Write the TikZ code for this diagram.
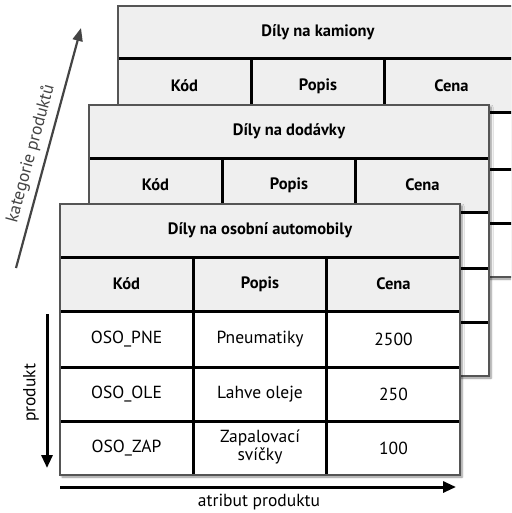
\documentclass[tikz,border=0pt]{standalone}
\usepackage{fontspec}
\setmainfont{PT Sans}
\usetikzlibrary{arrows.meta,shadows.blur}
\definecolor{frameGray}{RGB}{85,85,85}
\definecolor{headGray}{RGB}{239,239,239}
\definecolor{axisGray}{RGB}{68,68,68}

% one empty table, top left corner at (#1,#2)
\newcommand{\tablebox}[2]{%
  \begin{scope}[shift={(#1,#2)}]
    \fill[white, blur shadow={shadow xshift=2pt, shadow yshift=-2pt,
      shadow blur steps=6, shadow opacity=45}] (0,0) rectangle (400,271);
    \fill[headGray] (0,0) rectangle (400,107);
    \foreach \y in {53,107,163,217}
      \draw[gridline] (0,\y) -- (400,\y);
    \foreach \x in {133,266}
      \draw[gridline] (\x,53) -- (\x,271);
    \draw[tabframe] (0,0) rectangle (400,271);
  \end{scope}}

\begin{document}
\begin{tikzpicture}[x=1pt, y=-1pt,
    gridline/.style={black, line width=3pt},
    tabframe/.style={draw=frameGray, line width=2.4pt},
    headtxt/.style={font=\bfseries\fontsize{16.5}{18}\selectfont, inner sep=0pt},
    celltxt/.style={font=\fontsize{17.5}{15}\selectfont, inner sep=0pt, align=center},
    axislabel/.style={font=\fontsize{17.5}{18}\selectfont, inner sep=0pt},
    bigarrow/.style={-{Triangle[length=13pt, width=11pt]}, black, line width=3pt},
    catarrow/.style={-{Triangle[length=13pt, width=10pt]}, axisGray, line width=2.2pt}]
  \clip (0,0) rectangle (511,513);
  % --- back: trucks ---
  \tablebox{118}{6}
  \begin{scope}[shift={(118,6)}]
    \node[headtxt] (kam-title) at (200,26.5) {Díly na kamiony};
    \node[headtxt] (kam-kod) at (66.5,80) {Kód};
    \node[headtxt] (kam-popis) at (200,80) {Popis};
    \node[headtxt] (kam-cena) at (333.5,80) {Cena};
  \end{scope}
  % --- middle: vans ---
  \tablebox{89}{105}
  \begin{scope}[shift={(89,105)}]
    \node[headtxt] (dod-title) at (200,26.5) {Díly na dodávky};
    \node[headtxt] (dod-kod) at (66.5,80) {Kód};
    \node[headtxt] (dod-popis) at (200,80) {Popis};
    \node[headtxt] (dod-cena) at (333.5,80) {Cena};
  \end{scope}
  % --- front: cars ---
  \tablebox{60}{204}
  \begin{scope}[shift={(60,204)}]
    \node[headtxt] (oso-title) at (200,26.5) {Díly na osobní automobily};
    \node[headtxt] (oso-kod) at (66.5,80) {Kód};
    \node[headtxt] (oso-popis) at (200,80) {Popis};
    \node[headtxt] (oso-cena) at (333.5,80) {Cena};
    \node[celltxt] (pne-kod) at (66.5,135) {OSO\_PNE};
    \node[celltxt] (pne-popis) at (200,135) {Pneumatiky};
    \node[celltxt] (pne-cena) at (333.5,135) {2500};
    \node[celltxt] (ole-kod) at (66.5,190) {OSO\_OLE};
    \node[celltxt] (ole-popis) at (200,190) {Lahve oleje};
    \node[celltxt] (ole-cena) at (333.5,190) {250};
    \node[celltxt] (zap-kod) at (66.5,244) {OSO\_ZAP};
    \node[celltxt] (zap-popis) at (200,243) {Zapalovací\\svíčky};
    \node[celltxt] (zap-cena) at (333.5,244) {100};
  \end{scope}
  % --- axes ---
  \coordinate (cat-start) at (16,268);
  \coordinate (cat-end) at (81,28);
  \coordinate (prod-start) at (47,314);
  \coordinate (prod-end) at (47,468);
  \coordinate (attr-start) at (60,487);
  \coordinate (attr-end) at (456,487);
  \draw[catarrow] (cat-start) -- (cat-end)
    node[axislabel, pos=0.46, sloped, above=6pt] (cat-lbl) {kategorie produktů};
  \draw[bigarrow] (prod-start) -- (prod-end);
  \node[axislabel, rotate=90] (prod-lbl) at (31,393) {produkt};
  \draw[bigarrow] (attr-start) -- (attr-end);
  \node[axislabel] (attr-lbl) at (259,502) {atribut produktu};
\end{tikzpicture}
\end{document}
